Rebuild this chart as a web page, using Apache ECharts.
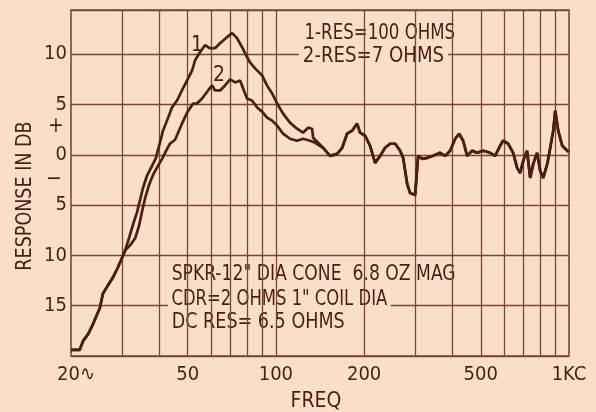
<!DOCTYPE html>
<html>
<head>
<meta charset="utf-8">
<script src="https://cdn.jsdelivr.net/npm/echarts@6/dist/echarts.min.js"></script>
<style>
  html, body { margin: 0; padding: 0; background: #f9dfca; }
  #chart { width: 596px; height: 412px; }
</style>
</head>
<body>
<div id="chart"></div>
<script>
// Low-frequency rise, common to both measurements (Hz, dB)
const lowFreq = [20, 20.3, 21.4, 22.0, 22.9, 23.8, 25.1, 25.7, 26.7, 27.8, 28.9, 29.9, 30.6];
const lowDb   = [-19.4, -19.4, -19.4, -18.5, -17.8, -16.8, -15.2, -13.8, -13.0, -12.2, -11.2, -10.2, -9.5];

// Curve 1: series resistance 100 ohms
const res1Freq = [31.6, 32.5, 33.6, 34.4, 35.2, 36.3, 37.8, 39.0, 39.6, 40.3,
                  41.2, 42.9, 44.2, 46.0, 47.8, 49.8, 51.8, 53.0, 55.1, 57.3,
                  59.6, 62.0, 64.5, 68.1, 70.9, 73.7, 76.7, 78.5, 81.6, 84.9,
                  89.7, 93.3, 97.1, 101, 105.8, 111.7, 118.1, 123.8, 128.8, 132.9,
                  134, 139.3];
const res1Db   = [-8.2, -7.0, -5.7, -4.5, -3.3, -2.1, -1.1, -0.3, 0.5, 1.3,
                  2.4, 3.7, 4.7, 5.4, 6.4, 7.4, 8.4, 9.4, 10.2, 10.9,
                  10.6, 10.6, 11.1, 11.7, 12.1, 11.6, 10.7, 10.1, 9.2, 8.6,
                  7.9, 6.9, 6.1, 5.1, 4.1, 3.2, 2.6, 2.2, 2.7, 2.6,
                  1.7, 1.2];

// Curve 2: series resistance 7 ohms
const res2Freq = [31.8, 33.1, 34.1, 34.9, 35.8, 36.9, 38.1, 39.6, 40.9, 42.2,
                  43.5, 45.3, 47.8, 49.8, 52.2, 53.8, 56.0, 58.7, 60.6, 62.0,
                  64.5, 67.1, 69.8, 72.6, 75.5, 77.3, 79.7, 82.9, 86.3, 89.7,
                  93.3, 97.1, 101, 105.8, 111.7, 118.1, 123.8, 130.8, 136.1];
const res2Db   = [-9.0, -8.3, -7.1, -5.7, -4.3, -3.0, -2.0, -1.1, -0.4, 0.4,
                  1.1, 1.5, 3.1, 4.2, 5.1, 5.1, 5.6, 6.4, 6.9, 6.4,
                  6.4, 6.9, 7.5, 7.2, 7.4, 6.6, 5.6, 5.4, 4.7, 4.3,
                  3.7, 3.4, 2.9, 2.1, 1.6, 1.4, 1.6, 1.4, 1.2];

// Upper range, where the two measurements coincide
const highFreq = [144.9, 153.1, 161.8, 168.3, 175, 182, 189.3, 193.7, 201.6, 209.6,
                  218, 226.8, 235.9, 245.3, 255.2, 265.4, 271.8, 280.5, 287.1, 298.6,
                  305.6, 315.6, 328.2, 344, 363.2, 378.1, 393.2, 408.9, 421.9, 435.4,
                  449.2, 467.2, 485.9, 509.4, 538.2, 559.8, 582.1, 595.7, 620.1, 644.9,
                  665.3, 681.4, 697.8, 719.4, 737.2, 755, 778.3, 797.7, 816.8, 843,
                  863, 883.7, 897.5, 918.7, 948.4, 986.3, 1000];
const highDb   = [0.7, -0.1, 0.1, 0.7, 2.1, 2.4, 3.1, 2.2, 1.9, 0.9,
                  -0.8, -0.1, 0.7, 1.1, 1.1, 0.4, -0.3, -2.9, -3.8, -4.0,
                  -0.1, -0.4, -0.3, -0.1, 0.2, -0.1, 0.4, 1.6, 2.1, 1.4,
                  -0.1, 0.4, 0.2, 0.4, 0.2, -0.1, 0.9, 1.4, 1.1, 0.2,
                  -1.3, -1.8, -0.6, 0.4, -2.3, -0.9, 0.2, -1.6, -2.3, -0.9,
                  0.7, 2.4, 4.4, 2.4, 0.9, 0.4, 0.3];

// Frequency rulings of the log paper, and the labelled ones
const gridFreqs = [30, 40, 50, 60, 70, 80, 90, 100, 200, 300, 400, 500, 600, 700, 800, 900];
const freqTicks = [20, 50, 100, 200, 500, 1000];
const freqTickLabels = ['20\u223F', '50', '100', '200', '500', '1KC'];

// Curve markers "1" and "2" (Hz, dB)
const curveTags = [['1', 53.8, 10.9], ['2', 64.0, 7.9]];

const PAPER = '#f9dfca';
const INK = '#4a1e12';
const RULE = '#7a4633';
const FONT = "'Liberation Sans Narrow','DejaVu Sans Condensed','Liberation Sans',sans-serif";

const zip = (f, d) => f.map((v, i) => [v, d[i]]);
const curve1 = zip(lowFreq, lowDb).concat(zip(res1Freq, res1Db), zip(highFreq, highDb));
const curve2 = zip(lowFreq, lowDb).concat(zip(res2Freq, res2Db), zip(highFreq, highDb));

const ruleLines = gridFreqs.map(f => ({ xAxis: f, label: { show: false } }));
freqTicks.forEach((f, i) => {
  const item = ruleLines.find(r => r.xAxis === f);
  const lab = { show: true, formatter: freqTickLabels[i], offset: i === 0 ? [5, 0] : [0, 0] };
  if (item) item.label = lab;
  else ruleLines.push({ xAxis: f, label: lab, lineStyle: { width: 0 } });
});

// Lettering helper: narrow hand lettering is imitated by squeezing the text horizontally
function lettering(text, x, y, opts) {
  const o = opts || {};
  const style = { text: text, fill: INK, font: (o.size || 21) + 'px ' + FONT,
                  align: o.align || 'left', verticalAlign: 'middle' };
  if (o.box) { style.backgroundColor = PAPER; style.padding = [4, 4, 4, 4]; }
  return { type: 'text', z: 5, x: x, y: y, rotation: o.rotation || 0,
           scaleX: o.squeeze || 1, style: style };
}

const chart = echarts.init(document.getElementById('chart'), null, { renderer: 'canvas' });
chart.setOption({
  animation: false,
  backgroundColor: PAPER,
  grid: {
    left: 71, right: 27, top: 10, bottom: 56,
    containLabel: false, outerBoundsMode: 'none',
    show: true, borderColor: RULE, borderWidth: 1.6, backgroundColor: 'transparent'
  },
  xAxis: {
    type: 'log', logBase: 10, min: 20, max: 1000,
    axisLine: { show: false }, axisTick: { show: false },
    axisLabel: { show: false }, splitLine: { show: false }, minorSplitLine: { show: false }
  },
  yAxis: {
    type: 'value', min: -20, max: 14.4, interval: 5,
    axisLine: { show: false }, axisTick: { show: false },
    splitLine: { show: true, lineStyle: { color: RULE, width: 1.3 } },
    axisLabel: {
      margin: 4, color: INK, fontSize: 20, fontFamily: FONT,
      showMaxLabel: false, showMinLabel: false,
      formatter: v => (v === -20 || v % 5 !== 0 ? '' : String(Math.abs(v)))
    }
  },
  graphic: [
    lettering('RESPONSE IN DB', 26, 196, { align: 'center', rotation: Math.PI / 2, squeeze: 0.93 }),
    lettering('+', 56, 127, { align: 'center' }),
    lettering('\u2212', 54, 180, { align: 'center' }),
    lettering('FREQ', 316, 402, { align: 'center' }),
    lettering('1-RES=100 OHMS', 301, 34, { box: true, squeeze: 0.88 }),
    lettering('2-RES=7 OHMS', 299, 57, { box: true, squeeze: 0.96 }),
    lettering('SPKR-12" DIA CONE  6.8 OZ MAG', 168, 275, { box: true, squeeze: 0.91 }),
    lettering('CDR=2 OHMS 1" COIL DIA', 168, 300, { box: true, squeeze: 0.87 }),
    lettering('DC RES= 6.5 OHMS', 168, 323, { box: true, squeeze: 0.93 })
  ],
  series: [
    {
      name: 'rulings', type: 'line', data: [], z: 1, silent: true,
      markLine: {
        silent: true, symbol: 'none', animation: false,
        lineStyle: { color: RULE, width: 1.3, type: 'solid' },
        label: { position: 'start', distance: 9, color: INK, fontSize: 20, fontFamily: FONT },
        emphasis: { disabled: true },
        data: ruleLines
      }
    },
    {
      name: 'RES=100 OHMS', type: 'line', data: curve1, z: 10, showSymbol: false, symbol: 'none',
      lineStyle: { color: INK, width: 2.7 }, silent: true,
      markPoint: {
        silent: true, symbol: 'circle', symbolSize: 1, itemStyle: { color: 'rgba(0,0,0,0)' },
        label: { show: true, position: 'inside', color: INK, fontSize: 21, fontFamily: FONT, formatter: p => p.name },
        data: curveTags.map(t => ({ name: t[0], coord: [t[1], t[2]] }))
      }
    },
    {
      name: 'RES=7 OHMS', type: 'line', data: curve2, z: 10, showSymbol: false, symbol: 'none',
      lineStyle: { color: INK, width: 2.7 }, silent: true
    }
  ]
});
</script>
</body>
</html>
